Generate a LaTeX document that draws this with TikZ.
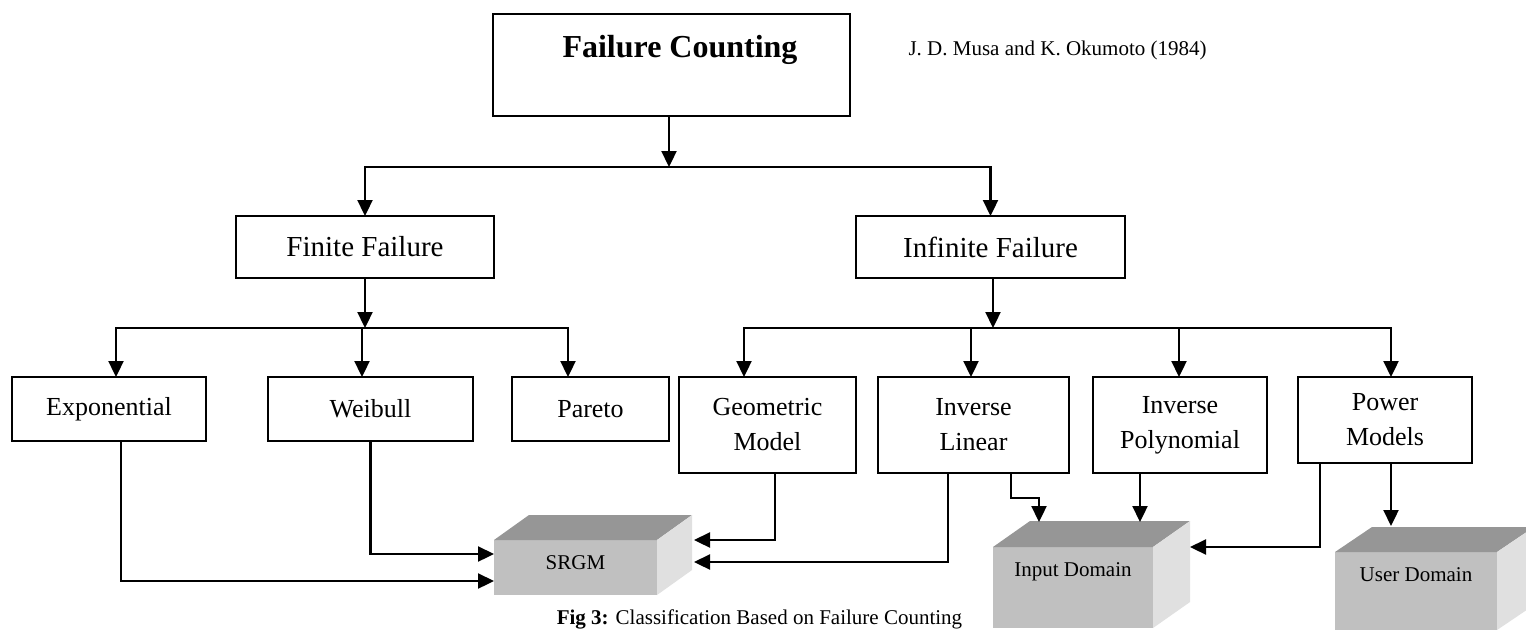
\documentclass[tikz,border=0pt]{standalone}
\usepackage{fontspec}
\setmainfont{Liberation Serif}
\usetikzlibrary{arrows.meta}

\definecolor{facetop}{RGB}{150,150,150}
\definecolor{facefront}{RGB}{192,192,192}
\definecolor{faceside}{RGB}{224,224,224}

\tikzset{
  box/.style={draw, line width=2pt, inner sep=0pt, outer sep=0pt, align=center},
  lvltwo/.style={box, font=\fontsize{29}{34}\selectfont},
  lvlthree/.style={box, font=\fontsize{26}{35}\selectfont},
  conn/.style={line width=2.3pt},
  arr/.style={conn, -{Triangle[length=16pt,width=15pt]}},
  frontface/.style={fill=facefront, inner sep=0pt, outer sep=0pt},
  cubelabel/.style={font=\fontsize{21}{25}\selectfont},
}

% top and right faces of a shaded block whose front face is node #1
\newcommand\drawcuboid[3]{%
  \fill[facetop] (#1.north west) -- (#1.north east) -- ([shift={(#2,-#3)}]#1.north east) -- ([shift={(#2,-#3)}]#1.north west) -- cycle;
  \fill[faceside] (#1.north east) -- ([shift={(#2,-#3)}]#1.north east) -- ([shift={(#2,-#3)}]#1.south east) -- (#1.south east) -- cycle;
}

\begin{document}
\begin{tikzpicture}[x=1pt, y=-1pt]
\useasboundingbox (0,0) rectangle (1526,630);
\fill[white] (0,0) rectangle (1526,630);

% root
\node[box, minimum width=357, minimum height=102] (fc) at (671.5,65) {};
\node[anchor=base, font=\fontsize{32}{38}\selectfont\bfseries] (fctext) at (680,57) {Failure Counting};
\node[anchor=base west, font=\fontsize{21}{25}\selectfont] (author) at (905,55) {J. D. Musa and K. Okumoto (1984)};

% second level
\node[lvltwo, minimum width=258, minimum height=62] (ff) at (365,247) {Finite Failure};
\node[lvltwo, minimum width=269, minimum height=62] (inf) at (990.5,247) {Infinite Failure};

% third level
\node[lvlthree, minimum width=194, minimum height=64] (exp) at (109,409) {Exponential};
\node[lvlthree, minimum width=205, minimum height=64] (wei) at (370.5,409) {Weibull};
\node[lvlthree, minimum width=157, minimum height=64] (par) at (590.5,409) {Pareto};
\node[lvlthree, minimum width=177, minimum height=96] (geo) at (767.5,425) {Geometric\\Model};
\node[lvlthree, minimum width=191, minimum height=96] (il) at (973.5,425) {Inverse\\Linear};
\node[lvlthree, minimum width=174, minimum height=96] (ip) at (1180,425) {Inverse\\Polynomial};
\node[lvlthree, minimum width=174, minimum height=86] (pm) at (1385,420) {Power\\Models};

% shaded blocks
\node[frontface, minimum width=163, minimum height=55] (srgm) at (575.5,567.5) {};
\node[frontface, minimum width=160, minimum height=81] (inp) at (1073,587.5) {};
\node[frontface, minimum width=162, minimum height=78] (usr) at (1416,591) {};
\drawcuboid{srgm}{35}{25}
\drawcuboid{inp}{37}{26}
\drawcuboid{usr}{37}{25}
\node[cubelabel] (srgmtext) at (575.5,563) {SRGM};
\node[cubelabel] (inptext) at (1073,572) {Input Domain};
\node[cubelabel] (usrtext) at (1416,575) {User Domain};

% root to second level
\coordinate (j1) at (669,167);
\draw[arr] (fc.south -| j1) -- (j1);
\draw[arr] (j1) -| (ff.north);
\draw[arr] (j1) -| (inf.north);

% finite failure models
\coordinate (j2) at (365,328);
\draw[arr] (ff.south) -- (j2);
\draw[arr] (j2) -| ([xshift=7]exp.north);
\draw[arr] (j2) -| ([xshift=-8.5]wei.north);
\draw[arr] (j2) -| ([xshift=-22.5]par.north);

% infinite failure models
\coordinate (j3) at (993,328);
\draw[arr] ([xshift=2.5]inf.south) -- (j3);
\draw[arr] (j3) -| ([xshift=-23.5]geo.north);
\draw[arr] (j3) -| ([xshift=-2.5]il.north);
\draw[arr] (j3) -| ([xshift=-1]ip.north);
\draw[arr] (j3) -| ([xshift=6]pm.north);

% models to SRGM
\draw[arr] ([xshift=12]exp.south) |- ([yshift=-13.5]srgm.west);
\draw[arr] (wei.south) |- ([yshift=13.5]srgm.west);
\draw[arr] ([xshift=7.5]geo.south) |- ([xshift=37,yshift=27.5]srgm.east);
\draw[arr] ([xshift=-25.5]il.south) |- ([xshift=37,yshift=5.5]srgm.east);

% models to input domain
\coordinate (ilout) at ([xshift=37.5]il.south);
\coordinate (inpin) at ([xshift=-34,yshift=25]inp.north);
\draw[arr] (ilout) -- ++(0,25) -| (inpin);
\coordinate (ipout) at ([xshift=-40]ip.south);
\coordinate (inptop) at ([xshift=67,yshift=25]inp.north);
\draw[arr] (ipout) -- (inptop);
\draw[arr] ([xshift=-65]pm.south) |- ([xshift=37,yshift=40.5]inp.east);

% model to user domain
\draw[arr] ([xshift=6]pm.south) -- ([xshift=-25,yshift=26]usr.north);

% caption
\node[anchor=base, font=\fontsize{21}{25}\selectfont] (cap) at (759.5,624) {\textbf{Fig 3:} Classification Based on Failure Counting};
\end{tikzpicture}
\end{document}
